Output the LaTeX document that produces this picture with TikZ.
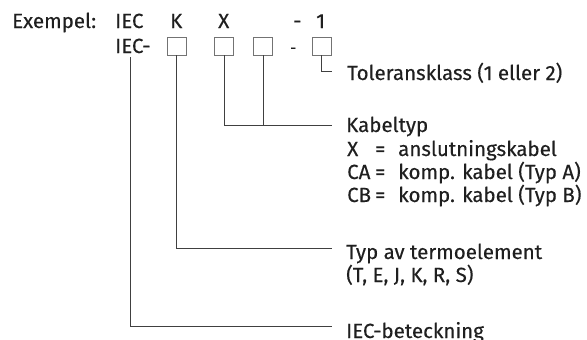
\documentclass[tikz,border=0pt]{standalone}
\usepackage{fontspec}
\setmainfont{Fira Sans}[FakeBold=0.3]
\newfontfamily\dinfont{Fira Sans}[FakeBold=0.3]
\begin{document}
\begin{tikzpicture}[x=1pt,y=-1pt,
  txt/.style={anchor=base west,inner sep=0pt,text=black!88,font=\dinfont\fontsize{20.5}{23}\selectfont},
  cell/.style={draw=black!55,line width=0.9pt,minimum width=19pt,minimum height=18pt,inner sep=0pt},
  lead/.style={draw=black!75,line width=0.8pt}]
\useasboundingbox (0,0) rectangle (587,340);
% top row
\node[txt] (ex) at (12,28) {Exempel:};
\node[txt] (iec1) at (115,28) {IEC};
\node[txt] (k) at (170,28) {K};
\node[txt] (x) at (218,28) {X};
\node[txt] (d1) at (293,28) {-};
\node[txt] (one) at (316,28) {1};
% second row
\node[txt] (iec2) at (115,53) {IEC-};
\node[cell] (b1) at (176.5,46) {};
\node[cell] (b2) at (224,46) {};
\node[cell] (b3) at (263,46) {};
\node[txt,font=\dinfont\fontsize{15}{16}\selectfont] (d2) at (290,53) {-};
\node[cell] (b4) at (321.5,46) {};
% descriptions
\node[txt] (tol) at (347,80) {Toleransklass (1 eller 2)};
\node[txt] (kab) at (346,132) {Kabeltyp};
\node[txt] (kx) at (347,156) {X};
\node[txt] (kxe) at (375,156) {=};
\node[txt] (kxv) at (398,156) {anslutningskabel};
\node[txt] (kca) at (347,179) {CA};
\node[txt] (kcae) at (375,179) {=};
\node[txt] (kcav) at (398,179) {komp. kabel (Typ A)};
\node[txt] (kcb) at (347,202) {CB};
\node[txt] (kcbe) at (375,202) {=};
\node[txt] (kcbv) at (398,202) {komp. kabel (Typ B)};
\node[txt] (typ) at (346,259) {Typ av termoelement};
\node[txt] (typv) at (346,282) {(T, E, J, K, R, S)};
\node[txt] (bet) at (346,338) {IEC-beteckning};
% connector ends
\coordinate (e0) at (332,71);
\coordinate (e2) at (332,125);
\coordinate (e1) at (332,248);
\coordinate (e4) at (332,326.5);
\coordinate (s4) at (130,57);
% connectors
\draw[lead] (b4.south) |- (e0);
\draw[lead] (b2.south) |- (e2);
\draw[lead] (b3.south) -- (b3.south |- e2);
\draw[lead] (b1.south) |- (e1);
\draw[lead] (s4) |- (e4);
\end{tikzpicture}
\end{document}
